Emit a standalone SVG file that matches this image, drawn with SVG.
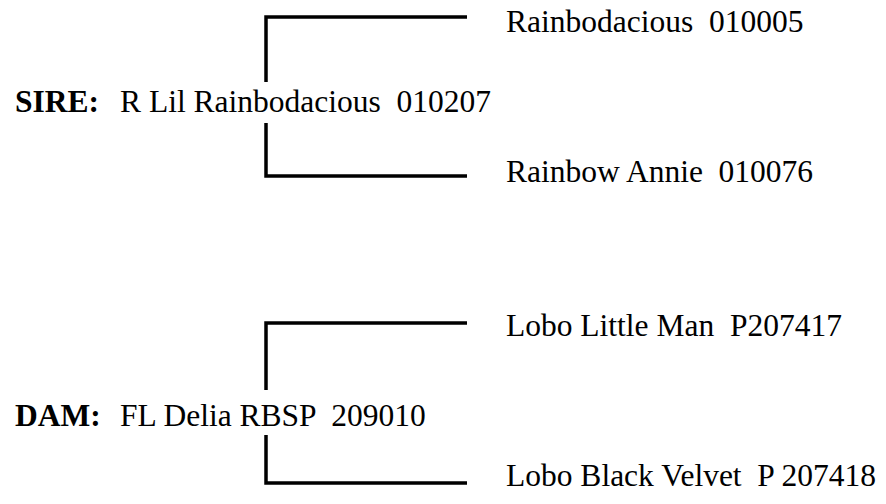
<svg xmlns="http://www.w3.org/2000/svg" width="886" height="504" viewBox="0 0 886 504">
<style>
text{font-family:"Liberation Serif","Times New Roman",serif;font-size:31.5px;fill:#000}
.b{font-weight:bold}
.ln{fill:none;stroke:#000;stroke-width:3.5;stroke-linecap:butt;stroke-linejoin:miter}
</style>
<rect width="886" height="504" fill="#fff"/>
<g id="connectors">
<path class="ln" d="M266,82 V17 H467"/>
<path class="ln" d="M266,123 V176 H467"/>
<path class="ln" d="M266,390 V323 H467"/>
<path class="ln" d="M266,435 V483 H467"/>
</g>
<g id="sire">
<text class="b" x="15" y="112">SIRE:</text>
<text x="120" y="112" xml:space="preserve">R Lil Rainbodacious  010207</text>
</g>
<g id="sire-sire"><text x="506" y="32" xml:space="preserve">Rainbodacious  010005</text></g>
<g id="sire-dam"><text x="506" y="182" xml:space="preserve">Rainbow Annie  010076</text></g>
<g id="dam">
<text class="b" x="15" y="426">DAM:</text>
<text x="120" y="426" xml:space="preserve">FL Delia RBSP  209010</text>
</g>
<g id="dam-sire"><text x="506" y="336" xml:space="preserve">Lobo Little Man  P207417</text></g>
<g id="dam-dam"><text x="506" y="486" xml:space="preserve">Lobo Black Velvet  P 207418</text></g>
</svg>
